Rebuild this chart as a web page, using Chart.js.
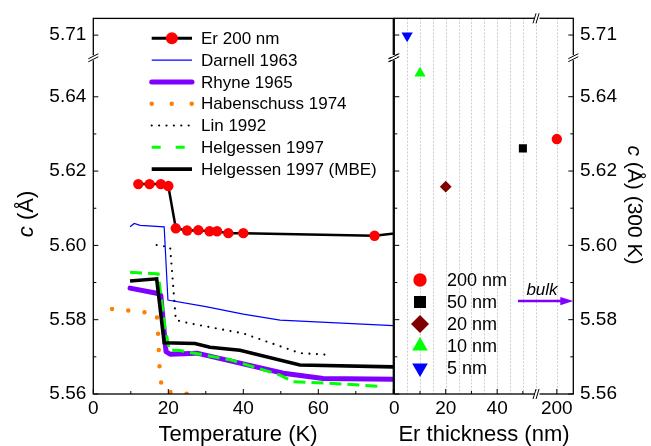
<!DOCTYPE html>
<html>
<head>
<meta charset="utf-8">
<script src="https://cdn.jsdelivr.net/npm/chart.js@4.4.1/dist/chart.umd.min.js"></script>
<style>
  html, body { margin: 0; padding: 0; background: #fff; }
  #wrap { position: relative; width: 651px; height: 446px; overflow: hidden; }
  #tempChart { position: absolute; left: 0; top: 0; }
  #thickChart { position: absolute; left: 386px; top: 0; }
</style>
</head>
<body>
<div id="wrap">
  <canvas id="tempChart" width="400" height="446"></canvas>
  <canvas id="thickChart" width="265" height="446"></canvas>
</div>
<script>
// ---- data: c lattice parameter (Angstrom) vs temperature (K) ----
const erT   = [12, 15, 18, 20, 22, 25, 28, 31, 33, 36, 40, 75, 300];
const erC   = [5.6165, 5.6165, 5.6165, 5.6160, 5.6046, 5.6040, 5.6041, 5.6038, 5.6038, 5.6033, 5.6033, 5.6026, 5.6286];
const darT  = [9.8, 10.9, 12.5, 18.9, 19.9, 30, 40, 49.8, 80];
const darC  = [5.6050, 5.6059, 5.6054, 5.6050, 5.5853, 5.5835, 5.5815, 5.5799, 5.5784];
const rhyT  = [9.8, 16.9, 18.0, 18.6, 19.4, 20.5, 27.6, 39.1, 50.7, 61.3, 80];
const rhyC  = [5.5885, 5.5871, 5.5866, 5.5800, 5.5714, 5.5707, 5.5710, 5.5683, 5.5656, 5.5642, 5.5640];
const habT  = [5, 16.9, 17.2, 17.4, 17.8, 18.7, 23, 27.5, 35];
const habC  = [5.5829, 5.5817, 5.5777, 5.5732, 5.5642, 5.5607, 5.5603, 5.5598, 5.5590];
const linT  = [16.9, 20.5, 22.0, 25.8, 40, 55.1, 63.6];
const linC  = [5.6001, 5.5995, 5.5799, 5.5790, 5.5763, 5.5710, 5.5705];
const helT  = [9.8, 17.3, 19.1, 20.3, 23.1, 36.5, 49.8, 53.3, 66.7, 76.5];
const helC  = [5.5928, 5.5923, 5.5781, 5.5718, 5.5717, 5.5692, 5.5651, 5.5633, 5.5627, 5.5620];
const mbeT  = [9.8, 16.9, 18.9, 27.1, 31.1, 39.1, 55.1, 80];
const mbeC  = [5.5904, 5.5910, 5.5738, 5.5736, 5.5726, 5.5718, 5.5678, 5.5673];

// ---- data: c at 300 K vs Er thickness (nm) ----
const thickNm  = [200, 50, 20, 10, 5];
const thickC   = [5.6286, 5.6261, 5.6158, 5.6463, 5.7098];
const thickLbl = ['200 nm', '50 nm', '20 nm', '10 nm', '5 nm'];
const bulkC = 5.585;

// ---- tick labels ----
const yMajor = [5.56, 5.58, 5.60, 5.62, 5.64, 5.71];
const yMinor = [5.57, 5.59, 5.61, 5.63];
const tMajor = [0, 20, 40, 60];
const tTicks = [0, 20, 40, 60, 80];
const tMinor = [10, 30, 50, 70];
const nmMajor = [0, 20, 40, 200];
const nmMinor = [10, 30, 50];
const nmGrid = [5, 10, 15, 20, 25, 30, 35, 40, 45, 50, 55, 200];

// broken axes: values above the break are shifted down
function yPos(c) { return c > 5.68 ? c - 0.0534 : c; }
function xPos(t) { return t > 100 ? t - 136.8 : t; }
const yBreak = 5.6505, xBreak = 55.5;

const FONT = 'Liberation Sans, Arial, sans-serif';
const pts = (xs, ys) => xs.map((x, i) => ({x: x, y: yPos(ys[i])}));

function line(ctx, x1, y1, x2, y2) {
  ctx.beginPath(); ctx.moveTo(x1, y1); ctx.lineTo(x2, y2); ctx.stroke();
}

function breakMark(ctx, x, y, vertical) {
  ctx.save();
  ctx.fillStyle = '#fff';
  if (vertical) ctx.fillRect(x - 3, y - 2.5, 6, 5); else ctx.fillRect(x - 2.5, y - 3, 5, 6);
  ctx.strokeStyle = '#000'; ctx.lineWidth = 1;
  if (vertical) {
    line(ctx, x - 5, y + 1, x + 5, y - 4);
    line(ctx, x - 5, y + 4, x + 5, y - 1);
  } else {
    line(ctx, x - 4, y + 5, x - 1, y - 5);
    line(ctx, x - 1, y + 5, x + 2, y - 5);
  }
  ctx.restore();
}

// frame, inward ticks, breaks
const framePlugin = {
  id: 'frame',
  afterDatasetsDraw(chart, args, o) {
    const {ctx, chartArea: a} = chart;
    const sx = chart.scales.x, sy = chart.scales.y;
    ctx.save();
    ctx.strokeStyle = '#000';
    ctx.lineWidth = 1.3;
    ctx.strokeRect(a.left, a.top, a.right - a.left, a.bottom - a.top);
    ctx.lineWidth = 1;
    o.xMajor.forEach(v => { const p = sx.getPixelForValue(xPos(v)); line(ctx, p, a.bottom, p, a.bottom - 5); });
    o.xMinor.forEach(v => { const p = sx.getPixelForValue(v); line(ctx, p, a.bottom, p, a.bottom - 3); });
    const sides = o.ySides;
    yMajor.forEach(v => {
      const p = sy.getPixelForValue(yPos(v));
      if (sides.includes('l')) line(ctx, a.left, p, a.left + 5, p);
      if (sides.includes('r')) line(ctx, a.right, p, a.right - 5, p);
    });
    yMinor.forEach(v => {
      const p = sy.getPixelForValue(v);
      if (sides.includes('l')) line(ctx, a.left, p, a.left + 3, p);
      if (sides.includes('r')) line(ctx, a.right, p, a.right - 3, p);
    });
    const yb = sy.getPixelForValue(yBreak);
    breakMark(ctx, a.left, yb, true);
    breakMark(ctx, a.right, yb, true);
    if (o.xBreak) {
      const xb = sx.getPixelForValue(xBreak);
      breakMark(ctx, xb, a.top, false);
      breakMark(ctx, xb, a.bottom, false);
    }
    ctx.restore();
  }
};

function drawTitle(ctx, x, y, rot, parts, size) {
  ctx.save();
  ctx.translate(x, y);
  ctx.rotate(rot);
  ctx.fillStyle = '#000';
  ctx.textBaseline = 'middle';
  let total = 0;
  parts.forEach(p => { ctx.font = (p[1] ? 'italic ' : '') + size + 'px ' + FONT; total += ctx.measureText(p[0]).width; });
  let cx = -total / 2;
  parts.forEach(p => {
    ctx.font = (p[1] ? 'italic ' : '') + size + 'px ' + FONT;
    ctx.textAlign = 'left';
    ctx.fillText(p[0], cx, 0);
    cx += ctx.measureText(p[0]).width;
  });
  ctx.restore();
}

// ---------------- left: temperature ----------------
const tempLegend = {
  id: 'tempLegend',
  afterDraw(chart) {
    const ctx = chart.ctx;
    const x0 = 151.7, x1 = 192, tx = 201, y0 = 38.3, dy = 21.8;
    chart.data.datasets.forEach((ds, i) => {
      const y = y0 + i * dy;
      ctx.save();
      ctx.strokeStyle = ds.borderColor;
      ctx.lineWidth = ds.legendWidth || ds.borderWidth;
      ctx.lineCap = ds.borderCapStyle || 'butt';
      ctx.setLineDash(ds.legendDash || []);
      line(ctx, x0, y, x1, y);
      ctx.setLineDash([]);
      if (ds.pointRadius > 0) {
        ctx.fillStyle = ds.pointBackgroundColor;
        ctx.beginPath(); ctx.arc((x0 + x1) / 2, y, 6, 0, Math.PI * 2); ctx.fill();
      }
      ctx.fillStyle = '#000';
      ctx.font = '17px ' + FONT;
      ctx.textBaseline = 'middle';
      ctx.fillText(ds.label, tx, y + 1);
      ctx.restore();
    });
    drawTitle(ctx, 27, 214, -Math.PI / 2, [['c', true], [' (\u00c5)', false]], 22);
    drawTitle(ctx, 238, 435, 0, [['Temperature (K)', false]], 22);
  }
};

new Chart(document.getElementById('tempChart'), {
  type: 'line',
  data: {
    datasets: [
      { label: 'Er 200 nm', data: pts(erT, erC), borderColor: '#000', borderWidth: 2.5, legendWidth: 3,
        pointRadius: 5.2, pointBackgroundColor: '#ff0000', pointBorderWidth: 0, order: 0 },
      { label: 'Darnell 1963', data: pts(darT, darC), borderColor: '#0000ff', borderWidth: 1.2, pointRadius: 0, order: 1 },
      { label: 'Rhyne 1965', data: pts(rhyT, rhyC), borderColor: '#8000ff', borderWidth: 5, borderCapStyle: 'round',
        borderJoinStyle: 'round', pointRadius: 0, order: 6 },
      { label: 'Habenschuss 1974', data: pts(habT, habC), borderColor: '#ff8000', borderWidth: 4.5, borderCapStyle: 'round',
        borderDash: [0, 16.3], legendDash: [0, 20], pointRadius: 0, order: 3 },
      { label: 'Lin 1992', data: pts(linT, linC), borderColor: '#000', borderWidth: 2.2, borderCapStyle: 'round',
        borderDash: [0, 7.5], legendDash: [0, 7.4], pointRadius: 0, order: 2 },
      { label: 'Helgessen 1997', data: pts(helT, helC), borderColor: '#00ff00', borderWidth: 3,
        borderDash: [12, 6], legendDash: [9, 15], pointRadius: 0, order: 5 },
      { label: 'Helgessen 1997 (MBE)', data: pts(mbeT, mbeC), borderColor: '#000', borderWidth: 3.6, pointRadius: 0, order: 4 }
    ]
  },
  options: {
    responsive: false,
    animation: false,
    layout: { padding: { top: 18.3, right: 6.7, left: 0, bottom: 0 } },
    plugins: { legend: { display: false }, tooltip: { enabled: false }, frame: { xMajor: tTicks, xMinor: tMinor, ySides: 'l' } },
    scales: {
      x: {
        type: 'linear', min: 0, max: 80,
        grid: { display: false, drawTicks: false }, border: { display: false },
        afterBuildTicks: s => { s.ticks = tMajor.map(v => ({ value: v })); },
        afterFit: s => { s.height = 52; },
        ticks: { padding: 3, maxRotation: 0, autoSkip: false, color: '#000', font: { family: FONT, size: 19 },
          callback: v => String(v) }
      },
      y: {
        type: 'linear', min: 5.56, max: 5.6611,
        grid: { display: false, drawTicks: false }, border: { display: false },
        afterBuildTicks: s => { s.ticks = yMajor.map(v => ({ value: yPos(v) })); },
        afterFit: s => { s.width = 93.3; },
        ticks: { padding: 7, autoSkip: false, color: '#000', font: { family: FONT, size: 19 },
          callback: (v, i) => yMajor[i].toFixed(2) }
      }
    }
  },
  plugins: [framePlugin, tempLegend]
});

// ---------------- right: thickness ----------------
const thickStyles = [
  { color: '#ff0000', style: 'circle',   r: 5.2, lr: 6.7, rot: 0 },
  { color: '#000000', style: 'rect',     r: 5.7, lr: 8.5, rot: 0 },
  { color: '#800000', style: 'rectRot',  r: 5.9, lr: 9,   rot: 0 },
  { color: '#00ff00', style: 'triangle', r: 6.5, lr: 9,   rot: 0 },
  { color: '#0000ff', style: 'triangle', r: 6.5, lr: 9,   rot: 180 }
];

const thickExtras = {
  id: 'thickExtras',
  beforeDatasetsDraw(chart) {
    const {ctx, chartArea: a} = chart;
    const sx = chart.scales.x;
    ctx.save();
    ctx.strokeStyle = '#cfcfcf';
    ctx.lineWidth = 1;
    ctx.setLineDash([2, 1.5]);
    nmGrid.forEach(v => { const p = Math.round(sx.getPixelForValue(xPos(v))) + 0.5; line(ctx, p, a.top, p, a.bottom); });
    ctx.restore();
  },
  afterDraw(chart) {
    const {ctx, chartArea: a} = chart;
    const sx = chart.scales.x, sy = chart.scales.y;
    // bulk arrow
    const yb = sy.getPixelForValue(bulkC);
    const xs = sx.getPixelForValue(48.1), xe = a.right;
    ctx.save();
    ctx.strokeStyle = '#8000ff'; ctx.fillStyle = '#8000ff'; ctx.lineWidth = 2.5;
    line(ctx, xs, yb, xe - 10, yb);
    ctx.beginPath(); ctx.moveTo(xe, yb); ctx.lineTo(xe - 13, yb - 4.2); ctx.lineTo(xe - 13, yb + 4.2); ctx.closePath(); ctx.fill();
    ctx.restore();
    drawTitle(ctx, xs + 24, yb - 11, 0, [['bulk', true]], 17);
    // legend
    const lx = 420 - 386, tx = 447 - 386, ly0 = 280, ldy = 22;
    chart.data.datasets.forEach((ds, i) => {
      const st = thickStyles[i];
      const y = ly0 + i * ldy;
      ctx.save();
      ctx.fillStyle = st.color;
      if (Chart.helpers && Chart.helpers.drawPoint) {
        Chart.helpers.drawPoint(ctx, { pointStyle: st.style, radius: st.lr, rotation: st.rot, borderWidth: 0 }, lx, y);
      }
      ctx.fillStyle = '#000';
      ctx.font = '18px ' + FONT;
      ctx.textBaseline = 'middle';
      ctx.fillText(ds.label, tx, y + 1);
      ctx.restore();
    });
    drawTitle(ctx, 484 - 386, 435, 0, [['Er thickness (nm)', false]], 22);
    drawTitle(ctx, 634 - 386, 205, Math.PI / 2, [['c', true], [' (\u00c5) (300 K)', false]], 21);
  }
};

new Chart(document.getElementById('thickChart'), {
  type: 'scatter',
  data: {
    datasets: thickNm.map((t, i) => ({
      label: thickLbl[i],
      data: [{ x: xPos(t), y: yPos(thickC[i]) }],
      pointStyle: thickStyles[i].style,
      pointRadius: thickStyles[i].r,
      pointRotation: thickStyles[i].rot,
      pointBackgroundColor: thickStyles[i].color,
      pointBorderWidth: 0,
      showLine: false
    }))
  },
  options: {
    responsive: false,
    animation: false,
    layout: { padding: { top: 18.3, right: 0, left: 7.3, bottom: 0 } },
    plugins: { legend: { display: false }, tooltip: { enabled: false },
      frame: { xMajor: nmMajor, xMinor: nmMinor, ySides: 'lr', xBreak: true } },
    scales: {
      x: {
        type: 'linear', min: 0, max: 69.6,
        grid: { display: false, drawTicks: false }, border: { display: false },
        afterBuildTicks: s => { s.ticks = nmMajor.map(v => ({ value: xPos(v) })); },
        afterFit: s => { s.height = 52; },
        ticks: { padding: 3, maxRotation: 0, autoSkip: false, color: '#000', font: { family: FONT, size: 19 },
          callback: (v, i) => String(nmMajor[i]) }
      },
      y: {
        type: 'linear', position: 'right', min: 5.56, max: 5.6611,
        grid: { display: false, drawTicks: false }, border: { display: false },
        afterBuildTicks: s => { s.ticks = yMajor.map(v => ({ value: yPos(v) })); },
        afterFit: s => { s.width = 77.7; },
        ticks: { padding: 6.7, autoSkip: false, color: '#000', font: { family: FONT, size: 19 },
          callback: (v, i) => yMajor[i].toFixed(2) }
      }
    }
  },
  plugins: [framePlugin, thickExtras]
});
</script>
</body>
</html>
